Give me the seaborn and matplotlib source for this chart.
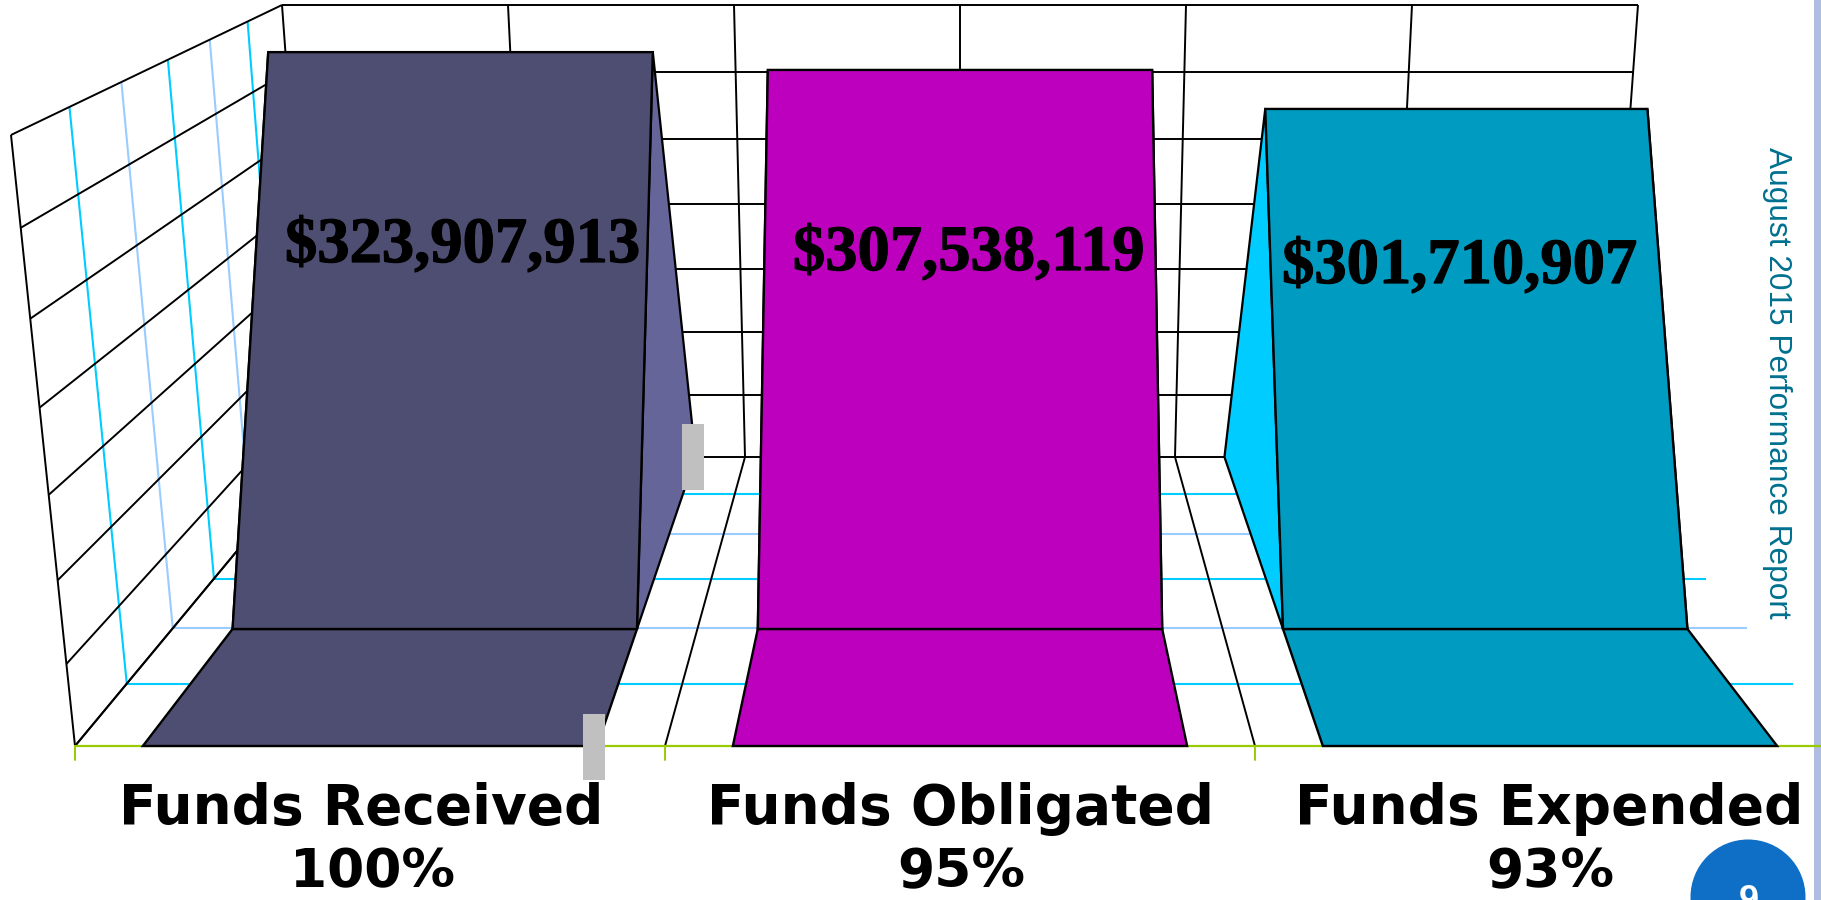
"""
Funds received / obligated / expended, drawn as the 3-D bars of the slide
"""

import numpy as np
import pandas as pd
import matplotlib
matplotlib.use("Agg")
import matplotlib.pyplot as plt
import matplotlib.patheffects as pe
from matplotlib.patches import Circle, Rectangle
from matplotlib.transforms import Transform
import seaborn as sns

# Data
categories = ["Funds Received", "Funds Obligated", "Funds Expended"]
percents = ["100%", "95%", "93%"]
amounts = [323907913, 307538119, 301710907]
# heights as drawn, in $M: the picture does not follow the labels exactly
drawn_heights = [323.9, 313.9, 292.0]

value_max = 350
value_step = 50

face_colors = ["#4E4E72", "#BD00BD", "#009BC1"]
side_colors = ["#65659A", "#BD00BD", "#00CCFF"]
CYAN = "#00CCFF"
PALE_BLUE = "#99CCFF"
GREEN = "#99CC00"
TEAL = "#00708F"

# Geometry of the box on the canvas, in pixels
W, H = 1821, 900
CENTER_X = 960
DEPTH_C = 0.375
BAR_DEPTH = 0.331
BAR_WIDTH = 0.77
PX_PER_M = 1.781
TOP_TAPER = [0.951, 0.9505, 0.945]


def depth_frac(d):
    return d * (1 + DEPTH_C) / (1 + DEPTH_C * d)


def project(u, t, d):
    """u across the chart 0-1, t up the value axis 0-1, d floor depth 0 (front) to 1 (back)"""
    front_y = (746 - 620.4 * t) / (1 - 0.0695 * t)
    back_y = (457 - 452.24 * t) / (1 - 0.0475 * t)
    front_half = 885 + (746 - front_y) * 64 / 611
    back_half = 645 + (457 - back_y) * 33 / 452
    s = depth_frac(d)
    y = front_y + s * (back_y - front_y)
    half = front_half + s * (back_half - front_half)
    return CENTER_X + (2 * u - 1) * half, y


class BarFace(Transform):
    """Takes a seaborn bar (category position, $M) to its leaning front face"""
    input_dims = 2
    output_dims = 2

    def __init__(self, height, taper):
        super().__init__()
        self.height = height
        self.taper = taper

    def transform_non_affine(self, values):
        values = np.asarray(values, dtype=float)
        x, v = values[:, 0], values[:, 1]
        base_x, base_y = project((x + 0.5) / 3, 0, BAR_DEPTH)
        k = 1 - (1 - self.taper) * v / self.height
        return np.column_stack([CENTER_X + (base_x - CENTER_X) * k, base_y - v * PX_PER_M])


def grid_line(ax, a, b, color="black", lw=1.4, zorder=1.5):
    ax.plot([a[0], b[0]], [a[1], b[1]], color=color, lw=lw, zorder=zorder,
            solid_capstyle="butt")


def draw_box(ax):
    # pale depth lines on the floor and the left wall go under the black grid
    for k in range(1, 6):
        color = CYAN if k % 2 else PALE_BLUE
        grid_line(ax, project(0, 0, k / 6), project(1, 0, k / 6), color=color, lw=1.5, zorder=1)
        grid_line(ax, project(0, 0, k / 6), project(0, 1, k / 6), color=color, lw=1.5, zorder=1)

    rows = np.arange(0, value_max + 1, value_step) / value_max
    for t in rows:
        grid_line(ax, project(0, t, 1), project(1, t, 1))  # back wall
        grid_line(ax, project(0, t, 0), project(0, t, 1))  # left wall
    for j in range(7):
        grid_line(ax, project(j / 6, 0, 1), project(j / 6, 1, 1))
    grid_line(ax, project(0, 0, 0), project(0, 1, 0))
    for j in range(3):
        grid_line(ax, project(j / 3, 0, 0), project(j / 3, 0, 1))


def draw_bars(ax):
    df = pd.DataFrame({"pos": range(3), "height": drawn_heights, "category": categories})
    sns.barplot(data=df, x="pos", y="height", hue="category", palette=face_colors,
                width=BAR_WIDTH, dodge=False, native_scale=True, saturation=1,
                legend=False, edgecolor="black", linewidth=1.7, ax=ax)

    for i, bar in enumerate(ax.patches):
        bar.set_transform(BarFace(drawn_heights[i], TOP_TAPER[i]) + ax.transData)
        bar.set_zorder(5)
        bar.set_snap(False)

        face = BarFace(drawn_heights[i], TOP_TAPER[i])
        for edge in (bar.get_x(), bar.get_x() + bar.get_width()):
            u = (edge + 0.5) / 3
            top = face.transform_non_affine([[edge, drawn_heights[i]]])[0]
            base = project(u, 0, BAR_DEPTH)
            back = project(u, 0, 1)
            ax.fill([top[0], back[0], base[0]], [top[1], back[1], base[1]],
                    facecolor=side_colors[i], edgecolor="black", lw=1.6, zorder=3)

        u0 = (bar.get_x() + 0.5) / 3
        u1 = (bar.get_x() + bar.get_width() + 0.5) / 3
        plate = [project(u0, 0, BAR_DEPTH), project(u1, 0, BAR_DEPTH),
                 project(u1, 0, 0), project(u0, 0, 0)]
        ax.fill([p[0] for p in plate], [p[1] for p in plate],
                facecolor=face_colors[i], edgecolor="black", lw=1.7, zorder=4)


def draw_labels(ax):
    heavier = [pe.withStroke(linewidth=0.9, foreground="black")]
    for i, amount in enumerate(amounts):
        ax.text([463, 969, 1460][i], [262, 270, 283][i], f"${amount:,}",
                family="Liberation Serif", weight="bold", fontsize=46.5,
                ha="center", va="baseline", color="black", zorder=8,
                path_effects=heavier)
    for i, name in enumerate(categories):
        ax.text([361.5, 960.5, 1549.5][i], 824, name, family="DejaVu Sans",
                weight="bold", fontsize=39.5, color="black",
                ha="center", va="baseline", zorder=8)
        ax.text([373, 961, 1550][i], 887, percents[i], family="DejaVu Sans",
                weight="bold", fontsize=38.5, color="black",
                ha="center", va="baseline", zorder=8)
    ax.text(1777, 147, "August 2015 Performance Report", family="Liberation Sans",
            fontsize=22.8, color=TEAL, rotation=-90, ha="center", va="top", zorder=8)


def draw_slide_furniture(ax):
    # axis line and ticks under the chart
    ax.plot([75, W], [746, 746], color=GREEN, lw=1.6, zorder=2)
    for j in range(3):
        x = project(j / 3, 0, 0)[0]
        ax.plot([x, x], [746, 760], color=GREEN, lw=1.4, zorder=2)

    ax.add_patch(Rectangle((583, 714), 22, 66, facecolor="#C0C0C0", edgecolor="none", zorder=7))
    ax.add_patch(Rectangle((682, 424), 22, 66, facecolor="#C0C0C0", edgecolor="none", zorder=7))
    ax.add_patch(Rectangle((1814, 0), 7, H, facecolor="#AFBEE0", edgecolor="none", zorder=0))
    ax.add_patch(Circle((1748, 897), 57.5, facecolor="#0F6FC6", edgecolor="none", zorder=7))
    ax.text(1748.5, 911, "9", family="Liberation Sans", weight="bold", fontsize=26,
            color="white", ha="center", va="baseline", zorder=8)


def main():
    sns.set_theme(style="white")
    fig = plt.figure(figsize=(W / 100, H / 100), dpi=100)
    ax = fig.add_axes([0, 0, 1, 1])

    draw_bars(ax)
    draw_box(ax)
    draw_labels(ax)
    draw_slide_furniture(ax)

    ax.set_xlim(0, W)
    ax.set_ylim(H, 0)
    ax.axis("off")
    fig.savefig("out.png", dpi=100)
    plt.close(fig)


if __name__ == "__main__":
    main()
